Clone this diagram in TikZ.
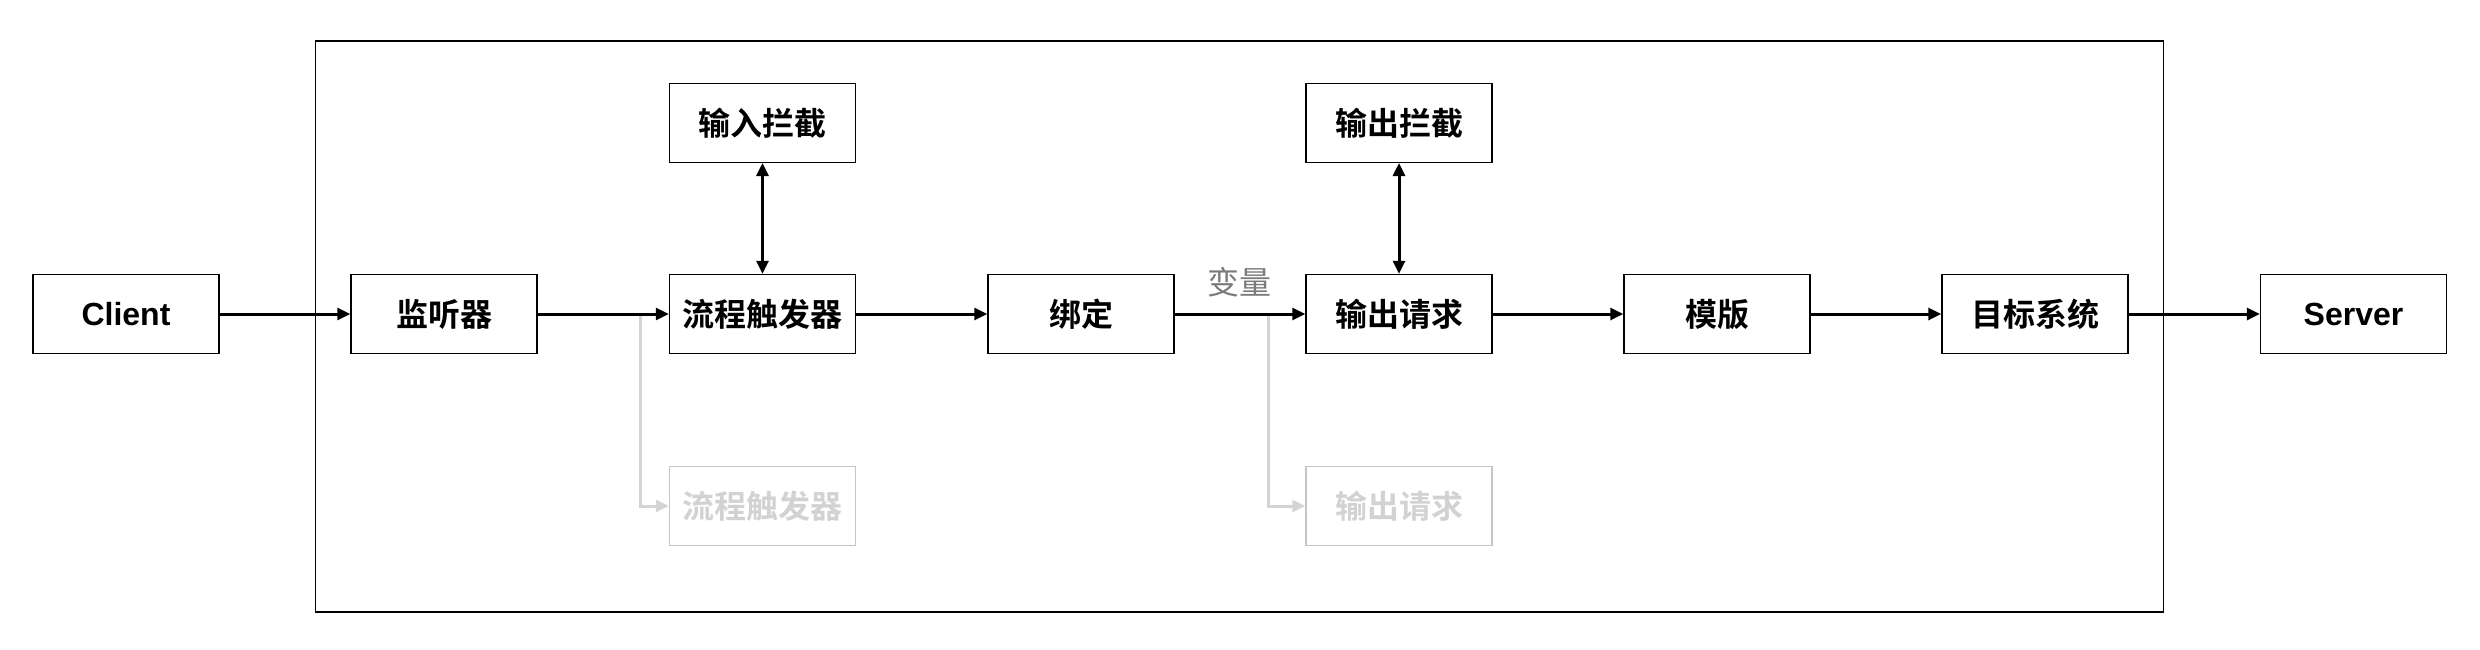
\documentclass[tikz,border=0pt]{standalone}
\usepackage{fontspec}
\setmainfont{Liberation Sans}
\newfontfamily\cjk{Noto Sans CJK SC}[BoldFont={Noto Sans CJK SC Bold}]
\usetikzlibrary{arrows.meta}
\definecolor{ghostline}{HTML}{D4D4D4}
\definecolor{ghostborder}{HTML}{C4C4C4}
\definecolor{ghosttext}{HTML}{D2D2D2}
\definecolor{labelgray}{HTML}{7A7A7A}
\begin{document}
\begin{tikzpicture}[x=1pt,y=-1pt,
  box/.style={draw, line width=1.4pt, minimum width=186pt, minimum height=79pt, inner sep=0pt,
    font=\fontsize{32}{36}\selectfont\bfseries},
  cn/.style={box, font=\cjk\fontsize{32}{36}\selectfont\bfseries},
  ghost/.style={cn, draw=ghostborder, text=ghosttext},
  flow/.style={line width=3pt, -{Triangle[length=13pt,width=12pt]}},
  both/.style={line width=3pt, {Triangle[length=13pt,width=12pt]}-{Triangle[length=13pt,width=12pt]}},
  ghostflow/.style={draw=ghostline, line width=3pt, -{Triangle[length=13pt,width=12pt]}},
]
\useasboundingbox (0,0) rectangle (2480,650);
% outer frame
\node (frame) [draw, line width=1.3pt, minimum width=1848pt, minimum height=571pt, inner sep=0pt] at (1239.5,326.5) {};
% main row
\node (client) [box] at (126,314) {Client};
\node (listen) [cn] at (444,314) {监听器};
\node (trig) [cn] at (762.5,314) {流程触发器};
\node (bind) [cn] at (1081,314) {绑定};
\node (outreq) [cn] at (1399,314) {输出请求};
\node (tmpl) [cn] at (1717,314) {模版};
\node (target) [cn] at (2035,314) {目标系统};
\node (server) [box] at (2353.5,314) {Server};
% top row
\node (inint) [cn] at (762.5,122.8) {输入拦截};
\node (outint) [cn] at (1399,122.8) {输出拦截};
% ghost row
\node (gtrig) [ghost] at (762.5,506) {流程触发器};
\node (goutreq) [ghost] at (1399,506) {输出请求};
% branch points
\coordinate (b1) at (640,314);
\coordinate (b2) at (1268,314);
\draw[ghostflow] (b1) |- (gtrig.west);
\draw[ghostflow] (b2) |- (goutreq.west);
% connectors
\draw[flow] (client) -- (listen);
\draw[flow] (listen) -- (trig);
\draw[flow] (trig) -- (bind);
\draw[flow] (bind) -- (outreq);
\draw[flow] (outreq) -- (tmpl);
\draw[flow] (tmpl) -- (target);
\draw[flow] (target) -- (server);
\draw[both] (inint) -- (trig);
\draw[both] (outint) -- (outreq);
% label
\node (var) [text=labelgray, font=\cjk\fontsize{32}{36}\selectfont, inner sep=0pt] at (1239,282) {变量};
\end{tikzpicture}
\end{document}
